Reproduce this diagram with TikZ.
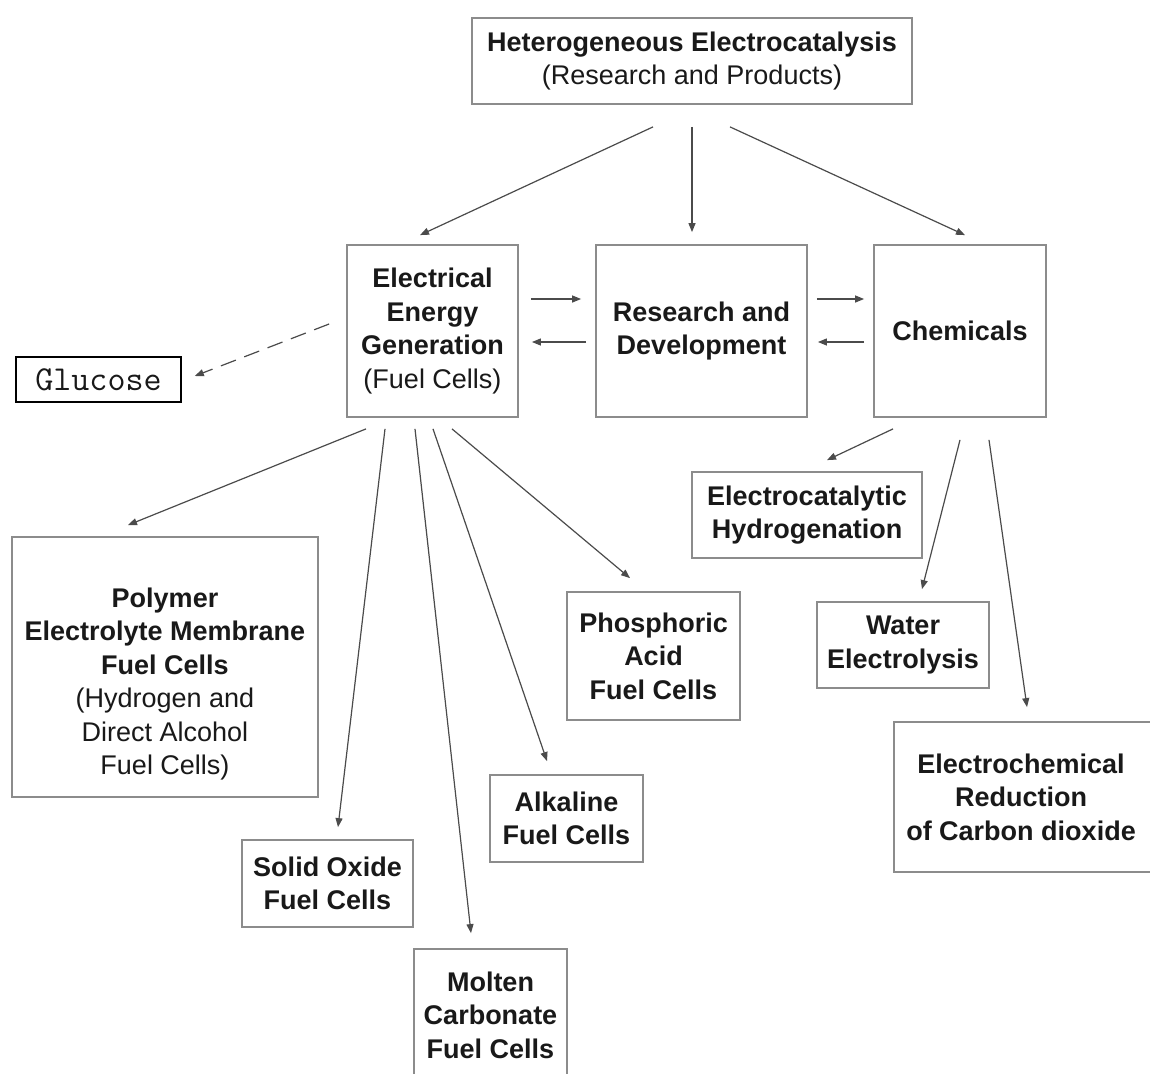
\documentclass[tikz,border=0pt]{standalone}
\usepackage{fontspec}
\setmainfont{Liberation Sans}
\usetikzlibrary{arrows.meta}
\definecolor{boxgray}{RGB}{140,140,140}
\definecolor{linegray}{RGB}{75,75,75}
\definecolor{txtc}{RGB}{25,25,25}
\newcommand\diagfont{\fontsize{27}{33.5}\selectfont}
\begin{document}
\begin{tikzpicture}[x=1pt,y=-1pt,
  box/.style={draw=boxgray, line width=1.8pt, fill=white, align=center, inner sep=0pt, text=txtc, font=\diagfont},
  txt/.style={align=center, inner sep=0pt, text=txtc, font=\diagfont},
  arr/.style={draw=linegray, line width=1.2pt, -{Triangle[length=9pt,width=7pt]}},
  ]
\useasboundingbox (0,0) rectangle (1150,1073);
\clip (0,0) rectangle (1150,1073);
\fill[white] (0,0) rectangle (1150,1073);

% nodes
\node[box, minimum width=440pt, minimum height=86pt] (top) at (692,61)
  {\textbf{Heterogeneous Electrocatalysis}\\(Research and Products)};
\node[box, minimum width=171pt, minimum height=172pt] (eeg) at (432.5,331)
  {\textbf{Electrical}\\\textbf{Energy}\\\textbf{Generation}\\(Fuel Cells)};
\node[box, minimum width=211pt, minimum height=172pt] (rd) at (701.5,331)
  {\textbf{Research and}\\\textbf{Development}};
\node[box, minimum width=172pt, minimum height=172pt] (chem) at (960,331)
  {\textbf{Chemicals}};
\node[draw=black, line width=1.6pt, minimum width=165pt, minimum height=45pt, inner sep=0pt,
  text=txtc, font=\ttfamily\fontsize{35}{35}\selectfont] (glu) at (98.5,379.5)
  {Glucose};

\node[box, minimum width=306pt, minimum height=260pt] (pem) at (165,667) {};
\node[txt] (pemtext) at (165,684)
  {\textbf{Polymer}\\\textbf{Electrolyte Membrane}\\\textbf{Fuel Cells}\\(Hydrogen and\\Direct Alcohol\\Fuel Cells)};
\node[box, minimum width=173pt, minimum height=128pt] (paf) at (653.5,656)
  {\textbf{Phosphoric}\\\textbf{Acid}\\\textbf{Fuel Cells}};
\node[box, minimum width=153pt, minimum height=87pt] (alk) at (566.5,818.5)
  {\textbf{Alkaline}\\\textbf{Fuel Cells}};
\node[box, minimum width=171pt, minimum height=87pt] (sofc) at (327.5,883.5)
  {\textbf{Solid Oxide}\\\textbf{Fuel Cells}};
\node[box, minimum width=153pt, minimum height=151pt] (mcfc) at (490.5,1024.5) {};
\node[txt] (mcfctext) at (490.5,1015)
  {\textbf{Molten}\\\textbf{Carbonate}\\\textbf{Fuel Cells}};

\node[box, minimum width=230pt, minimum height=86pt] (ech) at (807,515)
  {\textbf{Electrocatalytic}\\\textbf{Hydrogenation}};
\node[box, minimum width=172pt, minimum height=86pt] (we) at (903,645)
  {\textbf{Water}\\\textbf{Electrolysis}};
\node[box, minimum width=271pt, minimum height=150pt] (ecr) at (1029.5,797) {};
\node[txt] (ecrtext) at (1021,797)
  {\textbf{Electrochemical}\\\textbf{Reduction}\\\textbf{of Carbon dioxide}};

% connectors from top
\draw[arr] ([xshift=-39pt,yshift=-22pt]top.south) -- ([xshift=-12.5pt,yshift=9pt]eeg.north);
\draw[arr] ([yshift=-22pt]top.south) -- ([xshift=-9.5pt,yshift=12pt]rd.north);
\draw[arr] ([xshift=38pt,yshift=-22pt]top.south) -- ([xshift=5pt,yshift=9pt]chem.north);

% horizontal pairs
\draw[arr] ([xshift=12pt,yshift=32pt]eeg.east) -- ([xshift=-14pt,yshift=32pt]rd.west);
\draw[arr] ([xshift=-9pt,yshift=-11pt]rd.west) -- ([xshift=13pt,yshift=-11pt]eeg.east);
\draw[arr] ([xshift=9pt,yshift=32pt]rd.east) -- ([xshift=-9pt,yshift=32pt]chem.west);
\draw[arr] ([xshift=-9pt,yshift=-11pt]chem.west) -- ([xshift=10pt,yshift=-11pt]rd.east);

% dashed to glucose
\draw[arr, dash pattern=on 16pt off 9pt] ([xshift=-17pt,yshift=7pt]eeg.west) -- ([xshift=13pt,yshift=3.5pt]glu.east);

% fuel cell fan
\draw[arr] ([xshift=-66.5pt,yshift=-11pt]eeg.south) -- ([xshift=-37pt,yshift=11pt]pem.north);
\draw[arr] ([xshift=-47.5pt,yshift=-11pt]eeg.south) -- ([xshift=10.5pt,yshift=12pt]sofc.north);
\draw[arr] ([xshift=-17.5pt,yshift=-11pt]eeg.south) -- ([xshift=-19.5pt,yshift=15pt]mcfc.north);
\draw[arr] ([xshift=0.5pt,yshift=-11pt]eeg.south) -- ([xshift=-19.5pt,yshift=13pt]alk.north);
\draw[arr] ([xshift=19.5pt,yshift=-11pt]eeg.south) -- ([xshift=-23.5pt,yshift=13pt]paf.north);

% chemicals fan
\draw[arr] ([xshift=-67pt,yshift=-11pt]chem.south) -- ([xshift=20pt,yshift=11pt]ech.north);
\draw[arr] ([yshift=-22pt]chem.south) -- ([xshift=19pt,yshift=12pt]we.north);
\draw[arr] ([xshift=29pt,yshift=-22pt]chem.south) -- ([xshift=-2.5pt,yshift=14pt]ecr.north);
\end{tikzpicture}
\end{document}
